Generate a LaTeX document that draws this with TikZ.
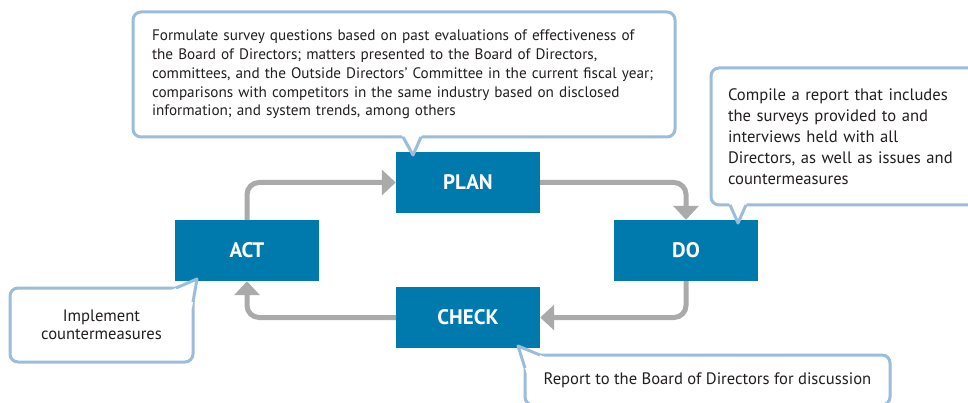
\documentclass[tikz,border=0pt]{standalone}
\usepackage{fontspec}
\setmainfont{PT Sans}
\usepackage{tikz}
\usetikzlibrary{
    arrows.meta,
    calc
}

\definecolor{stageblue}{RGB}{0,121,173}
\definecolor{flowgray}{RGB}{170,170,170}
\definecolor{noteblue}{RGB}{155,188,218}
\definecolor{inkgray}{RGB}{35,31,32}

\begin{document}
\begin{tikzpicture}[
  x=1pt,
  y=-1pt,
  every node/.style={align=center},
  stage/.style={
    fill=stageblue,
    text=white,
    font=\fontsize{21}{24}\selectfont\bfseries,
    minimum width=144pt,
    minimum height=61pt,
    inner sep=0pt
  },
  note/.style={
    draw=noteblue,
    line width=3pt,
    rounded corners=8pt,
    fill=white,
    text=inkgray,
    font=\fontsize{16.6}{18}\selectfont,
    inner sep=0pt
  },
  tailline/.style={draw=noteblue, line width=3pt, line join=round},
  flow/.style={
    draw=flowgray,
    line width=5pt,
    rounded corners=12pt,
    -{Triangle[length=14pt,width=25pt]}
  }
]
  \useasboundingbox (0,0) rectangle (968,403);

  % The four stages of the cycle.
  \node[stage] (plan) at (468,182.5) {PLAN};
  \node[stage] (do) at (686,250.5) {DO};
  \node[stage] (check) at (468,317.5) {CHECK};
  \node[stage] (act) at (247,250.5) {ACT};

  \draw[flow] (act.north) |- (plan.west);
  \draw[flow] (plan.east) -| (do.north);
  \draw[flow] (do.south) |- (check.east);
  \draw[flow] (check.west) -| (act.south);

  % Callouts.
  \node[note, minimum width=542pt, minimum height=125pt, text width=504pt,
        align=left, font=\fontsize{15.2}{18.8}\selectfont] (planNote) at (404,74.5)
    {Formulate survey questions based on past evaluations of effectiveness of\\
     the Board of Directors; matters presented to the Board of Directors,\\
     committees, and the Outside Directors' Committee in the current fiscal year;\\
     comparisons with competitors in the same industry based on disclosed\\
     information; and system trends, among others};
  \node[note, minimum width=274pt, minimum height=137pt, text width=240pt,
        align=left, font=\fontsize{16.6}{21}\selectfont] (doNote) at (848,136.5)
    {Compile a report that includes\\
     the surveys provided to and\\
     interviews held with all\\
     Directors, as well as issues and\\
     countermeasures};
  \node[note, minimum width=183pt, minimum height=74pt] (actNote) at (101.5,325)
    {Implement\\countermeasures};
  \node[note, minimum width=365pt, minimum height=50pt] (checkNote) at (707.5,380)
    {Report to the Board of Directors for discussion};

  % Callout tails.
  \coordinate (planTailA) at (403,137);
  \coordinate (planTailB) at (421,137);
  \coordinate (planTip) at (413,155);
  \coordinate (doTailA) at (730,205);
  \coordinate (doTailB) at (746,205);
  \coordinate (doTip) at (738,223);
  \coordinate (actTailA) at (176,288);
  \coordinate (actTailB) at (193,302);
  \coordinate (actTip) at (197,279);
  \coordinate (checkTailA) at (525,368);
  \coordinate (checkTailB) at (540,355);
  \coordinate (checkTip) at (518,346);
  \foreach \t in {plan,do,act,check}{
    \fill[white] (\t Tip) -- ($(\t Tip)!1.3!(\t TailA)$)
      -- ($(\t Tip)!1.3!(\t TailB)$) -- cycle;
    \draw[tailline] (\t TailA) -- (\t Tip) -- (\t TailB);
  }
\end{tikzpicture}
\end{document}
